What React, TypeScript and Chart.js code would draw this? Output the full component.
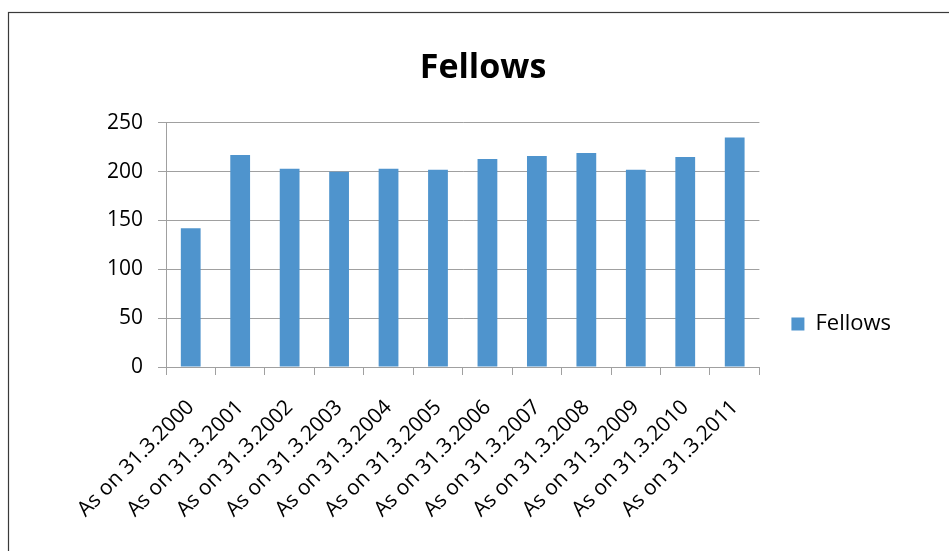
import React, { useEffect, useRef } from "react";
import { Chart, registerables } from "chart.js";

Chart.register(...registerables);

const categories: string[] = [
  "As on 31.3.2000",
  "As on 31.3.2001",
  "As on 31.3.2002",
  "As on 31.3.2003",
  "As on 31.3.2004",
  "As on 31.3.2005",
  "As on 31.3.2006",
  "As on 31.3.2007",
  "As on 31.3.2008",
  "As on 31.3.2009",
  "As on 31.3.2010",
  "As on 31.3.2011",
];
const fellows: number[] = [142, 217, 203, 200, 203, 202, 213, 216, 219, 202, 215, 235];
const seriesLabel = "Fellows";
const chartTitle = "Fellows";
const yMin = 0;
const yMax = 250;
const yStep = 50;

const FONT = "'Open Sans', 'DejaVu Sans', sans-serif";

const framePlugin = {
  id: "frame",
  beforeDraw(chart: any) {
    const ctx = chart.ctx;
    ctx.save();
    ctx.fillStyle = "#ffffff";
    ctx.fillRect(0, 0, chart.width, chart.height);
    ctx.strokeStyle = "#3a3a3a";
    ctx.lineWidth = 1.2;
    ctx.strokeRect(8.5, 12.5, chart.width + 20, chart.height + 20);
    ctx.restore();
  },
};

export default function App() {
  const ref = useRef<HTMLCanvasElement | null>(null);
  useEffect(() => {
    if (!ref.current) return;
    const chart = new Chart(ref.current, {
      type: "bar",
      data: {
        labels: categories,
        datasets: [
          {
            label: seriesLabel,
            data: fellows,
            backgroundColor: "#4f94cd",
            borderWidth: 0,
            barPercentage: 0.4,
            categoryPercentage: 1,
          },
        ],
      },
      options: {
        responsive: false,
        animation: false,
        devicePixelRatio: 1,
        layout: { padding: { left: 65, right: 48, top: 0, bottom: 0 } },
        plugins: {
          title: {
            display: true,
            text: chartTitle,
            color: "#000",
            font: { family: FONT, size: 34, weight: "bold", lineHeight: 1.2 },
            padding: { top: 48, bottom: 34 },
          },
          legend: {
            display: true,
            position: "right",
            align: "end",
            fullSize: false,
            labels: {
              boxWidth: 13,
              boxHeight: 13,
              padding: 32,
              color: "#000",
              font: { family: FONT, size: 22, lineHeight: 1.0 },
            },
          },
          tooltip: { enabled: false },
        },
        scales: {
          x: {
            offset: true,
            grid: {
              offset: true,
              drawOnChartArea: false,
              drawTicks: true,
              tickLength: 8,
              color: "#a0a0a0",
            },
            border: { display: true, color: "#a0a0a0" },
            ticks: {
              autoSkip: false,
              maxRotation: 45,
              minRotation: 45,
              padding: 20,
              color: "#000",
              font: { family: FONT, size: 21 },
            },
            afterFit(scale: any) {
              scale.height = 184;
            },
          },
          y: {
            min: yMin,
            max: yMax,
            grid: { color: "#a0a0a0", tickLength: 8, drawTicks: true },
            border: { display: true, color: "#a0a0a0" },
            ticks: {
              stepSize: yStep,
              padding: 15,
              color: "#000",
              font: { family: FONT, size: 21 },
            },
            afterFit(scale: any) {
              scale.width = 101;
            },
          },
        },
      },
      plugins: [framePlugin],
    });
    return () => chart.destroy();
  }, []);
  return (
    <div style={{ position: "fixed", left: 0, top: 0, width: 949, height: 551 }}>
      <canvas ref={ref} width={949} height={551} style={{ display: "block" }} />
    </div>
  );
}
